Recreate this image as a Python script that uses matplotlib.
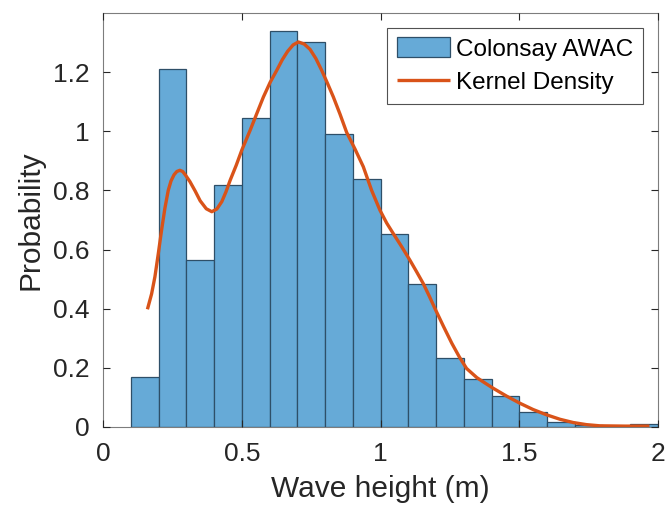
import numpy as np
import matplotlib.pyplot as plt

plt.rcParams['font.family'] = ['Liberation Sans', 'DejaVu Sans']

# histogram bins (width 0.1 m) and normalised heights
bin_edges = [0.1, 0.2, 0.3, 0.4, 0.5, 0.6, 0.7, 0.8, 0.9, 1.0,
             1.1, 1.2, 1.3, 1.4, 1.5, 1.6, 1.7, 1.8, 1.9, 2.0]
prob = [0.169, 1.21, 0.564, 0.817, 1.044, 1.338, 1.302, 0.99, 0.838, 0.651,
        0.485, 0.232, 0.163, 0.104, 0.05, 0.018, 0.006, 0.004, 0.009]

# kernel density estimate
kde_x = [0.160, 0.175, 0.187, 0.199, 0.211, 0.223, 0.235, 0.245, 0.256, 0.266,
         0.277, 0.287, 0.297, 0.313, 0.332, 0.350, 0.372, 0.392, 0.410, 0.428,
         0.443, 0.458, 0.480, 0.500, 0.530, 0.555, 0.578, 0.602, 0.626, 0.646,
         0.665, 0.685, 0.704, 0.725, 0.746, 0.767, 0.788, 0.809, 0.830, 0.854,
         0.878, 0.908, 0.938, 0.968, 0.998, 1.022, 1.046, 1.076, 1.106, 1.130,
         1.154, 1.176, 1.196, 1.227, 1.257, 1.284, 1.310, 1.347, 1.376, 1.406,
         1.455, 1.503, 1.550, 1.599, 1.647, 1.695, 1.742, 1.790, 1.880, 1.969]
kde_y = [0.398, 0.450, 0.508, 0.585, 0.666, 0.740, 0.800, 0.832, 0.853, 0.864,
         0.868, 0.864, 0.852, 0.830, 0.798, 0.765, 0.738, 0.728, 0.737, 0.762,
         0.795, 0.834, 0.885, 0.936, 1.003, 1.062, 1.116, 1.165, 1.206, 1.242,
         1.270, 1.292, 1.302, 1.295, 1.277, 1.246, 1.206, 1.162, 1.116, 1.058,
         0.996, 0.940, 0.880, 0.800, 0.733, 0.690, 0.654, 0.610, 0.564, 0.525,
         0.485, 0.442, 0.401, 0.340, 0.283, 0.237, 0.198, 0.167, 0.149, 0.131,
         0.104, 0.080, 0.059, 0.041, 0.026, 0.015, 0.008, 0.004, 0.003, 0.003]

fig = plt.figure(figsize=(6.66, 5.11), dpi=100)
ax = fig.add_axes([0.1547, 0.1644, 0.8333, 0.8102])

lefts = np.array(bin_edges[:-1])
widths = np.diff(bin_edges)
bars = ax.bar(lefts, prob, width=widths, align='edge', color='#66AAD7',
              edgecolor='#2E4F68', linewidth=0.9, label='Colonsay AWAC')
line, = ax.plot(kde_x, kde_y, color='#D95319', linewidth=2.4,
                solid_capstyle='butt', label='Kernel Density')

ax.set_xlim(0, 2)
ax.set_ylim(0, 1.4)
ax.set_xticks([0, 0.5, 1, 1.5, 2])
ax.set_yticks([0, 0.2, 0.4, 0.6, 0.8, 1.0, 1.2])
ax.xaxis.set_major_formatter(plt.FuncFormatter(lambda v, p: f'{v:g}'))
ax.yaxis.set_major_formatter(plt.FuncFormatter(lambda v, p: f'{v:g}'))
ax.tick_params(direction='in', top=True, right=True, length=5, width=0.8,
               colors='#262626', labelsize=19)
ax.tick_params(axis='x', pad=11)
ax.tick_params(axis='y', pad=10)
for s in ax.spines.values():
    s.set_color('#262626')
    s.set_linewidth(0.8)
    s.set_alpha(0.6)

ax.set_xlabel('Wave height (m)', fontsize=21.5, color='#262626', labelpad=6)
ax.set_ylabel('Probability', fontsize=21.5, color='#262626', labelpad=6)

leg = ax.legend([bars, line], ['Colonsay AWAC', 'Kernel Density'],
                loc='upper right', fontsize=17.5, frameon=True, fancybox=False,
                handlelength=2.2, handleheight=0.9, handletextpad=0.25,
                borderpad=0.4, labelspacing=0.4, borderaxespad=0.6)
leg.get_frame().set_edgecolor('#262626')
leg.get_frame().set_linewidth(0.8)

fig.savefig('out.png', dpi=100)
